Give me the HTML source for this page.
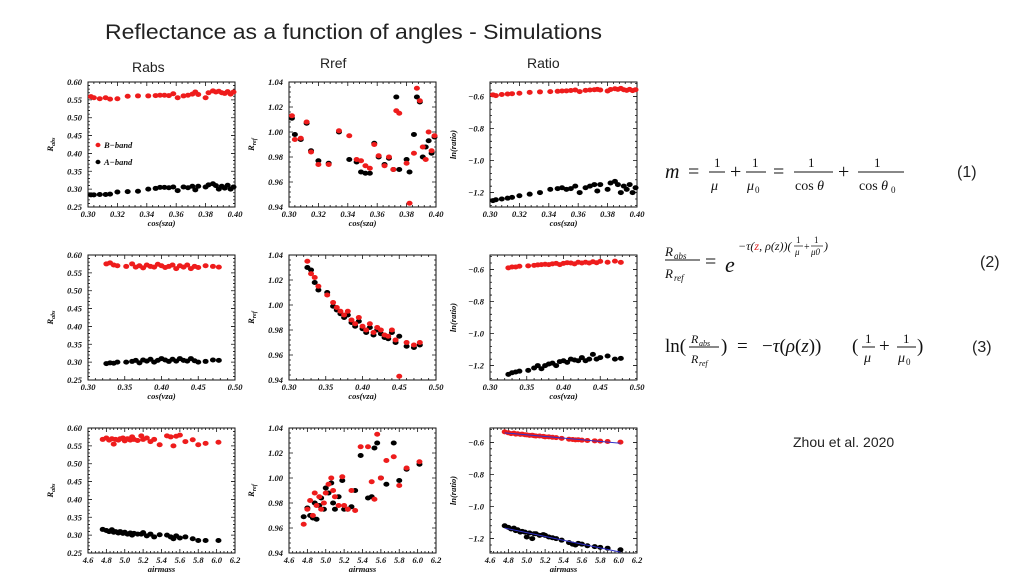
<!DOCTYPE html>
<html><head><meta charset="utf-8">
<style>
html,body{margin:0;padding:0;background:#fff;}
svg{display:block;}
.ti{font-family:"Liberation Sans",sans-serif;}
.tk{font-family:"Liberation Serif",serif;font-style:italic;font-weight:bold;font-size:8.5px;fill:#111;}
.eq{font-family:"Liberation Serif",serif;font-style:italic;fill:#111;}
.eqn{font-family:"Liberation Serif",serif;fill:#111;}
</style></head>
<body>
<svg id="page" width="1024" height="576" viewBox="0 0 1024 576" xmlns="http://www.w3.org/2000/svg">
<text class="ti" x="105" y="39" font-size="21" textLength="497" lengthAdjust="spacingAndGlyphs" fill="#222">Reflectance as a function of angles  - Simulations</text>
<text class="ti" x="132" y="72" font-size="14" fill="#222">Rabs</text>
<text class="ti" x="320" y="68" font-size="14" fill="#222">Rref</text>
<text class="ti" x="527" y="68" font-size="14" fill="#222">Ratio</text>

<g>
<text class="eq" x="665" y="178" font-size="20">m</text>
<text class="eqn" x="688" y="178" font-size="20">=</text>
<text class="eqn" x="714" y="167" font-size="13">1</text><line x1="709" y1="172" x2="725" y2="172" stroke="#111"/><text class="eq" x="711" y="190" font-size="14">μ</text>
<text class="eqn" x="730" y="178" font-size="20">+</text>
<text class="eqn" x="752" y="167" font-size="13">1</text><line x1="746" y1="172" x2="766" y2="172" stroke="#111"/><text class="eq" x="747" y="190" font-size="14">μ</text><text class="eqn" x="755" y="193" font-size="9">0</text>
<text class="eqn" x="773" y="178" font-size="20">=</text>
<text class="eqn" x="808" y="167" font-size="13">1</text><line x1="794" y1="172" x2="833" y2="172" stroke="#111"/><text class="eqn" x="795" y="190" font-size="14">cos <tspan font-style="italic">θ</tspan></text>
<text class="eqn" x="838" y="178" font-size="20">+</text>
<text class="eqn" x="874" y="167" font-size="13">1</text><line x1="858" y1="172" x2="904" y2="172" stroke="#111"/><text class="eqn" x="859" y="190" font-size="14">cos <tspan font-style="italic">θ</tspan></text><text class="eqn" x="891" y="193" font-size="9">0</text>
<text class="ti" x="957" y="177" font-size="16" fill="#222">(1)</text>
</g>
<g>
<text class="eq" x="665" y="256" font-size="13">R</text><text class="eq" x="674" y="259" font-size="9">abs</text>
<line x1="665" y1="260" x2="700" y2="260" stroke="#111"/>
<text class="eq" x="665" y="278" font-size="13">R</text><text class="eq" x="674" y="281" font-size="9">ref</text>
<text class="eqn" x="705" y="268" font-size="20">=</text>
<text class="eq" x="725" y="272" font-size="22">e</text>
<text class="eq" x="738" y="250" font-size="12">−τ(<tspan fill="#e02020">z</tspan>, ρ(z))(</text>
<text class="eqn" x="796" y="243" font-size="9">1</text><line x1="794" y1="246" x2="803" y2="246" stroke="#111" stroke-width="0.7"/><text class="eq" x="795" y="255" font-size="9">μ</text>
<text class="eqn" x="804" y="250" font-size="10">+</text>
<text class="eqn" x="814" y="243" font-size="9">1</text><line x1="811" y1="246" x2="823" y2="246" stroke="#111" stroke-width="0.7"/><text class="eq" x="811" y="255" font-size="9">μ0</text>
<text class="eq" x="824" y="250" font-size="12">)</text>
<text class="ti" x="980" y="267" font-size="16" fill="#222">(2)</text>
</g>
<g>
<text class="eqn" x="665" y="352" font-size="19">ln(</text>
<text class="eq" x="691" y="343" font-size="12">R</text><text class="eq" x="699" y="346" font-size="8">abs</text>
<line x1="689" y1="347" x2="719" y2="347" stroke="#111"/>
<text class="eq" x="691" y="363" font-size="12">R</text><text class="eq" x="699" y="366" font-size="8">ref</text>
<text class="eqn" x="721" y="352" font-size="19">)</text>
<text class="eqn" x="737" y="352" font-size="19">=</text>
<text class="eqn" x="762" y="352" font-size="19">−<tspan font-style="italic">τ</tspan>(<tspan font-style="italic">ρ</tspan>(<tspan font-style="italic">z</tspan>))</text>
<text class="eqn" x="852" y="352" font-size="19">(</text>
<text class="eqn" x="865" y="343" font-size="13">1</text><line x1="862" y1="347" x2="875" y2="347" stroke="#111"/><text class="eq" x="864" y="362" font-size="14">μ</text>
<text class="eqn" x="879" y="352" font-size="19">+</text>
<text class="eqn" x="903" y="343" font-size="13">1</text><line x1="897" y1="347" x2="916" y2="347" stroke="#111"/><text class="eq" x="898" y="362" font-size="14">μ</text><text class="eqn" x="906" y="365" font-size="9">0</text>
<text class="eqn" x="917" y="352" font-size="19">)</text>
<text class="ti" x="972" y="352" font-size="16" fill="#222">(3)</text>
</g>
<text class="ti" x="793" y="447" font-size="14" fill="#222">Zhou et al. 2020</text>
<g id="charts"></g>
</svg>
<script>
// ---- data ----
const xSza = [0.302,0.304,0.308,0.312,0.315,0.320,0.327,0.334,0.341,0.346,0.349,0.352,0.355,0.358,0.361,0.365,0.368,0.371,0.373,0.375,0.380,0.382,0.385,0.387,0.389,0.391,0.393,0.395,0.397,0.399];
const szaRabsB = [0.559,0.556,0.553,0.556,0.552,0.553,0.560,0.561,0.561,0.562,0.563,0.563,0.562,0.567,0.556,0.561,0.563,0.566,0.572,0.565,0.556,0.570,0.575,0.572,0.574,0.570,0.568,0.573,0.566,0.572];
const szaRabsA = [0.284,0.284,0.285,0.285,0.286,0.292,0.293,0.294,0.300,0.302,0.305,0.305,0.304,0.306,0.296,0.306,0.304,0.308,0.298,0.308,0.306,0.312,0.315,0.310,0.300,0.308,0.303,0.311,0.300,0.306];
const szaRrefB = [1.013,0.994,0.995,1.008,0.984,0.974,0.974,1.001,0.997,0.978,0.977,0.973,0.971,0.990,0.981,0.973,0.980,0.970,1.017,1.015,0.975,0.943,0.983,1.035,1.025,0.988,0.978,1.000,0.985,0.997];
const szaRrefA = [1.011,0.998,0.994,1.007,0.985,0.977,0.975,1.000,0.978,0.976,0.968,0.967,0.967,0.991,0.980,0.974,0.979,0.970,1.028,0.970,0.978,0.968,0.998,1.028,1.024,0.980,0.988,0.993,0.983,0.996];
const szaRatioB = [-0.590,-0.595,-0.588,-0.585,-0.583,-0.580,-0.575,-0.572,-0.570,-0.568,-0.566,-0.565,-0.563,-0.560,-0.570,-0.562,-0.560,-0.558,-0.556,-0.560,-0.566,-0.557,-0.552,-0.556,-0.550,-0.558,-0.562,-0.556,-0.564,-0.558];
const szaRatioA = [-1.25,-1.245,-1.24,-1.235,-1.23,-1.22,-1.21,-1.20,-1.18,-1.175,-1.17,-1.18,-1.175,-1.16,-1.20,-1.17,-1.16,-1.15,-1.19,-1.15,-1.18,-1.14,-1.13,-1.15,-1.20,-1.16,-1.18,-1.15,-1.20,-1.17];

const xVza = [0.325,0.330,0.335,0.340,0.352,0.360,0.365,0.370,0.375,0.380,0.385,0.390,0.395,0.400,0.405,0.410,0.415,0.420,0.425,0.430,0.435,0.440,0.445,0.450,0.460,0.470,0.478];
const vzaRabsB = [0.575,0.578,0.572,0.570,0.568,0.575,0.566,0.570,0.564,0.572,0.568,0.566,0.574,0.570,0.565,0.568,0.572,0.562,0.570,0.566,0.572,0.562,0.568,0.565,0.570,0.568,0.566];
const vzaRabsA = [0.296,0.298,0.297,0.300,0.300,0.302,0.305,0.298,0.306,0.303,0.308,0.300,0.305,0.310,0.306,0.302,0.308,0.303,0.310,0.305,0.303,0.310,0.304,0.300,0.302,0.306,0.305];
const vzaRrefB = [1.035,1.025,1.022,1.015,1.008,1.002,0.998,0.995,0.992,0.995,0.988,0.985,0.990,0.983,0.980,0.985,0.978,0.982,0.980,0.976,0.975,0.980,0.972,0.943,0.970,0.968,0.970];
const vzaRrefA = [1.030,1.028,1.018,1.012,1.010,0.999,0.996,0.993,0.990,0.992,0.986,0.983,0.987,0.981,0.978,0.982,0.976,0.980,0.977,0.974,0.973,0.978,0.970,0.975,0.967,0.966,0.968];
const vzaRatioB = [-0.590,-0.585,-0.585,-0.580,-0.578,-0.575,-0.572,-0.570,-0.568,-0.570,-0.565,-0.562,-0.570,-0.562,-0.558,-0.560,-0.565,-0.555,-0.560,-0.555,-0.560,-0.552,-0.558,-0.550,-0.555,-0.548,-0.556];
const vzaRatioA = [-1.255,-1.245,-1.24,-1.235,-1.23,-1.215,-1.20,-1.22,-1.20,-1.19,-1.185,-1.20,-1.175,-1.17,-1.18,-1.16,-1.165,-1.17,-1.15,-1.17,-1.16,-1.13,-1.16,-1.15,-1.14,-1.16,-1.155];

const xAir = [4.76,4.80,4.83,4.86,4.88,4.90,4.93,4.95,4.98,5.00,5.03,5.06,5.08,5.10,5.14,5.18,5.20,5.24,5.28,5.32,5.38,5.46,5.50,5.53,5.56,5.60,5.66,5.74,5.80,5.88,6.02];
const airRabsB = [0.568,0.572,0.566,0.570,0.555,0.568,0.566,0.570,0.572,0.564,0.570,0.566,0.575,0.568,0.565,0.578,0.568,0.572,0.562,0.568,0.553,0.578,0.575,0.550,0.577,0.580,0.562,0.567,0.553,0.557,0.560];
const airRabsA = [0.316,0.313,0.310,0.315,0.308,0.310,0.306,0.310,0.305,0.308,0.303,0.306,0.300,0.305,0.303,0.303,0.307,0.298,0.303,0.295,0.301,0.300,0.295,0.290,0.298,0.292,0.295,0.290,0.285,0.285,0.285];
const airRrefB = [0.963,0.975,0.982,0.970,0.988,0.978,0.985,0.975,0.980,0.988,0.995,1.000,0.990,0.985,0.978,1.001,0.978,0.975,0.990,0.974,1.025,1.025,0.997,0.983,1.035,1.000,1.014,1.017,0.994,1.008,1.013];
const airRrefA = [0.969,0.976,0.970,0.968,0.980,0.967,0.978,0.984,0.975,0.992,0.988,0.996,0.980,0.975,0.985,0.998,0.975,0.975,0.977,0.990,1.018,0.984,0.985,1.024,1.028,1.000,0.995,1.028,0.998,1.007,1.011];
const airRatioB = [-0.534,-0.540,-0.545,-0.542,-0.548,-0.546,-0.550,-0.548,-0.552,-0.553,-0.556,-0.555,-0.558,-0.560,-0.560,-0.562,-0.565,-0.565,-0.568,-0.570,-0.575,-0.580,-0.582,-0.584,-0.583,-0.586,-0.588,-0.590,-0.592,-0.594,-0.598];
const airRatioA = [-1.12,-1.13,-1.14,-1.135,-1.15,-1.145,-1.16,-1.155,-1.16,-1.19,-1.165,-1.20,-1.17,-1.17,-1.18,-1.175,-1.18,-1.19,-1.195,-1.20,-1.21,-1.225,-1.235,-1.24,-1.23,-1.235,-1.245,-1.25,-1.255,-1.26,-1.27];

const ticksSza = [0.30,0.32,0.34,0.36,0.38,0.40];
const ticksVza = [0.30,0.35,0.40,0.45,0.50];
const ticksAir = [4.6,4.8,5.0,5.2,5.4,5.6,5.8,6.0,6.2];
const ticksRabs = [0.25,0.30,0.35,0.40,0.45,0.50,0.55,0.60];
const ticksRref = [0.94,0.96,0.98,1.00,1.02,1.04];
const ticksRatio = [-1.2,-1.0,-0.8,-0.6];

const NS = "http://www.w3.org/2000/svg";
const root = document.getElementById('charts');
function mk(tag, parent){ const e=document.createElementNS(NS,tag); parent.appendChild(e); return e; }

const rows = [
  {top:82, x:xSza, xr:[0.30,0.40], xt:ticksSza, xd:2, xl:'cos(sza)', key:'sza',
   s:[[szaRabsB,szaRabsA],[szaRrefB,szaRrefA],[szaRatioB,szaRatioA]]},
  {top:255, x:xVza, xr:[0.30,0.50], xt:ticksVza, xd:2, xl:'cos(vza)', key:'vza',
   s:[[vzaRabsB,vzaRabsA],[vzaRrefB,vzaRrefA],[vzaRatioB,vzaRatioA]]},
  {top:428, x:xAir, xr:[4.6,6.2], xt:ticksAir, xd:1, xl:'airmass', key:'airmass', fit:true,
   s:[[airRabsB,airRabsA],[airRrefB,airRrefA],[airRatioB,airRatioA]]}
];
const cols = [
  {left:88, yr:[0.25,0.60], yt:ticksRabs, yd:2, yl:'R', sub:'abs', key:'rabs'},
  {left:289, yr:[0.94,1.04], yt:ticksRref, yd:2, yl:'R', sub:'ref', key:'rref'},
  {left:490, yr:[-1.29,-0.51], yt:ticksRatio, yd:1, yl:'ln(ratio)', sub:'', key:'ratio'}
];
const W=147, H=125;

rows.forEach((row)=>{
  cols.forEach((col, ci)=>{
    const g = mk('g', root);
    
    
    const L=col.left, T=row.top;
    const sx = v => L + (v-row.xr[0])/(row.xr[1]-row.xr[0])*W;
    const sy = v => T + H - (v-col.yr[0])/(col.yr[1]-col.yr[0])*H;
    const fr = mk('rect', g);
    
    
    fr.setAttribute('x',L); fr.setAttribute('y',T); fr.setAttribute('width',W); fr.setAttribute('height',H);
    fr.setAttribute('fill','none'); fr.setAttribute('stroke','#111'); fr.setAttribute('stroke-width','1');
    let tp='';
    row.xt.forEach(v=>{ const x=sx(v); tp+=`M${x},${T+H}v-4M${x},${T}v4`; });
    for(let i=0;i<row.xt.length-1;i++){ for(let k=1;k<5;k++){ const x=sx(row.xt[i]+(row.xt[i+1]-row.xt[i])*k/5); tp+=`M${x},${T+H}v-2M${x},${T}v2`; } }
    col.yt.forEach(v=>{ const y=sy(v); tp+=`M${L},${y}h4M${L+W},${y}h-4`; });
    const st=col.yt[1]-col.yt[0];
    for(let v=col.yt[0]-st; v<col.yt[col.yt.length-1]+st; v+=st){ for(let k=1;k<5;k++){ const vv=v+st*k/5; if(vv<col.yr[0]||vv>col.yr[1]) continue; const y=sy(vv); tp+=`M${L},${y}h2M${L+W},${y}h-2`; } }
    const tk = mk('path', g);
    
    
    tk.setAttribute('d', tp); tk.setAttribute('stroke','#111'); tk.setAttribute('stroke-width','0.8');
    row.xt.forEach(v=>{
      const t = mk('text', g);
      
      
      t.setAttribute('class','tk'); t.setAttribute('x', sx(v)); t.setAttribute('y', T+H+10); t.setAttribute('text-anchor','middle');
      t.textContent = v.toFixed(row.xd);
    });
    col.yt.forEach(v=>{
      const t = mk('text', g);
      
      
      t.setAttribute('class','tk'); t.setAttribute('x', L-6); t.setAttribute('y', sy(v)+3); t.setAttribute('text-anchor','end');
      t.textContent = v.toFixed(col.yd).replace('-','\u2212');
    });
    const xt = mk('text', g);
    
    
    xt.setAttribute('class','tk'); xt.setAttribute('x', L+W/2); xt.setAttribute('y', T+H+19); xt.setAttribute('text-anchor','middle');
    xt.textContent = row.xl;
    const yt = mk('text', g);
    
    
    yt.setAttribute('class','tk');
    const yx = ci===2 ? L-34 : L-35;
    yt.setAttribute('transform', `translate(${yx},${T+H/2}) rotate(-90)`); yt.setAttribute('text-anchor','middle');
    yt.textContent = col.yl;
    if(col.sub){ const ts=mk('tspan',yt); ts.setAttribute('font-size','6'); ts.setAttribute('dy','2'); ts.textContent=col.sub; }
    const pair = row.s[ci];
    const colors = ['#ee1c1c','#000'];
    [1,0].forEach(si=>{
      const ys = pair[si];
      const sg = mk('g', g);
      
      
      ys.forEach((v,i)=>{
        const c = mk('ellipse', sg);
        
        
        c.setAttribute('cx', sx(row.x[i])); c.setAttribute('cy', sy(v)); c.setAttribute('rx', 3); c.setAttribute('ry', 2.5);
        c.setAttribute('fill', colors[si]);
      });
      if(row.fit && ci===2){
        const n=ys.length; let mx=0,my=0; row.x.forEach((x,i)=>{mx+=x;my+=ys[i];}); mx/=n; my/=n;
        let num=0,den=0; row.x.forEach((x,i)=>{num+=(x-mx)*(ys[i]-my); den+=(x-mx)*(x-mx);});
        const b=num/den, a=my-b*mx;
        const x0=row.x[0], x1=row.x[n-1];
        const ln = mk('line', g);
        
        
        ln.setAttribute('x1', sx(x0)); ln.setAttribute('y1', sy(a+b*x0)); ln.setAttribute('x2', sx(x1)); ln.setAttribute('y2', sy(a+b*x1));
        ln.setAttribute('stroke','#3030c8'); ln.setAttribute('stroke-width','1');
      }
    });
  });
});
const lg = mk('g', root);


[['B\u2212band','#ee1c1c',145],['A\u2212band','#000',162]].forEach(e=>{
  const c = mk('ellipse', lg);
  
  
  c.setAttribute('cx', 98); c.setAttribute('cy', e[2]); c.setAttribute('rx', 2.5); c.setAttribute('ry', 2.2); c.setAttribute('fill', e[1]);
  const t = mk('text', lg);
  
  
  t.setAttribute('class','tk'); t.setAttribute('x', 104); t.setAttribute('y', e[2]+3);
  t.textContent = e[0];
});
</script>
</body></html>
